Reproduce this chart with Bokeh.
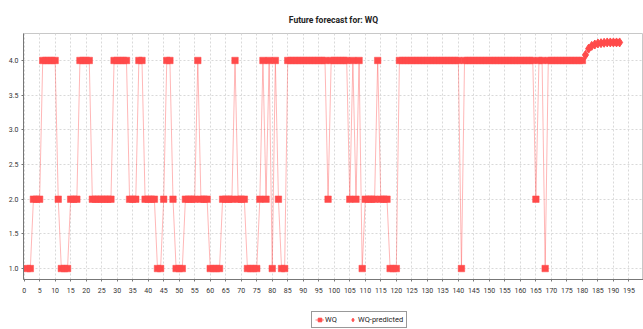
from bokeh.plotting import figure
from bokeh.layouts import column
from bokeh.models import (ColumnDataSource, FixedTicker, PrintfTickFormatter,
                          Legend, LegendItem, Range1d)
from bokeh.embed import file_html
from bokeh.resources import INLINE

# ---- data ----
wq_x = list(range(1, 181))
wq_values = [
    1, 1, 2, 2, 2, 4, 4, 4, 4, 4,
    2, 1, 1, 1, 2, 2, 2, 4, 4, 4,
    4, 2, 2, 2, 2, 2, 2, 2, 4, 4,
    4, 4, 4, 2, 2, 2, 4, 4, 2, 2,
    2, 2, 1, 1, 2, 4, 4, 2, 1, 1,
    1, 2, 2, 2, 2, 4, 2, 2, 2, 1,
    1, 1, 1, 2, 2, 2, 2, 4, 2, 2,
    2, 1, 1, 1, 1, 2, 4, 2, 4, 1,
    4, 2, 1, 1, 4, 4, 4, 4, 4, 4,
    4, 4, 4, 4, 4, 4, 4, 2, 4, 4,
    4, 4, 4, 4, 2, 4, 2, 4, 1, 2,
    2, 2, 2, 4, 2, 2, 2, 1, 1, 1,
    4, 4, 4, 4, 4, 4, 4, 4, 4, 4,
    4, 4, 4, 4, 4, 4, 4, 4, 4, 4,
    1, 4, 4, 4, 4, 4, 4, 4, 4, 4,
    4, 4, 4, 4, 4, 4, 4, 4, 4, 4,
    4, 4, 4, 4, 2, 4, 4, 1, 4, 4,
    4, 4, 4, 4, 4, 4, 4, 4, 4, 4,
]
pred_x = list(range(181, 193))
pred_values = [4.08, 4.17, 4.21, 4.23, 4.245, 4.25, 4.255, 4.26, 4.26, 4.26, 4.26, 4.26]
x_ticks = list(range(0, 200, 5))
y_ticks = [1.0, 1.5, 2.0, 2.5, 3.0, 3.5, 4.0]
title_text = "Future forecast for: WQ"
series_names = ["WQ", "WQ-predicted"]

FONT = "Roboto"
RED = "#ff4a4a"

p = figure(width=643, height=308, output_backend="svg", toolbar_location=None,
           x_range=Range1d(-0.2, 199.7), y_range=Range1d(0.842, 4.389),
           min_border_left=23, min_border_right=0, min_border_top=33,
           min_border_bottom=29)

p.title.text = title_text
p.title.align = "center"
p.title.text_font = FONT
p.title.text_font_size = "8.5px"
p.title.text_font_style = "bold"
p.title.text_color = "#222222"
p.title.standoff = 18

src = ColumnDataSource(dict(x=wq_x, y=wq_values))
psrc = ColumnDataSource(dict(x=pred_x, y=pred_values))

p.line("x", "y", source=src, line_color=RED, line_alpha=0.4, line_width=1)
p.scatter("x", "y", source=src, marker="square", size=6.5,
          fill_color=RED, line_color=RED, line_width=0.5)
p.scatter("x", "y", source=psrc, marker="diamond", size=9,
          fill_color=RED, line_color=RED)

p.background_fill_color = "white"
p.outline_line_color = "#c8c8c8"

p.xgrid.ticker = FixedTicker(ticks=x_ticks)
p.ygrid.ticker = FixedTicker(ticks=y_ticks)
for g in (p.xgrid, p.ygrid):
    g.grid_line_color = "#d9d9d9"
    g.grid_line_dash = "2 2"
    g.grid_line_width = 1

p.xaxis.ticker = FixedTicker(ticks=x_ticks)
p.yaxis.ticker = FixedTicker(ticks=y_ticks)
p.yaxis.formatter = PrintfTickFormatter(format="%.1f")
for ax in (p.xaxis, p.yaxis):
    ax.axis_line_color = "#777777"
    ax.major_tick_line_color = "#777777"
    ax.major_tick_out = 2
    ax.major_tick_in = 0
    ax.minor_tick_line_color = None
    ax.major_label_text_font = FONT
    ax.major_label_text_font_size = "7px"
    ax.major_label_text_color = "#333333"
p.xaxis.major_label_standoff = 6
p.yaxis.major_label_standoff = 3

# ---- legend strip below the chart (proxy renderers sit outside its range) ----
lg = figure(width=643, height=21, output_backend="svg", toolbar_location=None,
            x_range=Range1d(100, 101), y_range=Range1d(100, 101),
            min_border_left=0, min_border_right=0, min_border_top=0,
            min_border_bottom=0)
lg.axis.visible = False
lg.grid.visible = False
lg.outline_line_color = None
proxy = ColumnDataSource(dict(x=wq_x[:1], y=wq_values[:1]))
proxy_p = ColumnDataSource(dict(x=pred_x[:1], y=pred_values[:1]))
l1 = lg.line("x", "y", source=proxy, line_color=RED, line_alpha=0.7, line_width=1)
s1 = lg.scatter("x", "y", source=proxy, marker="square", size=6,
                fill_color=RED, line_color=RED)
d1 = lg.scatter("x", "y", source=proxy_p, marker="diamond", size=9,
                fill_color=RED, line_color=RED)
legend = Legend(items=[LegendItem(label=series_names[0], renderers=[l1, s1]),
                       LegendItem(label=series_names[1], renderers=[d1])],
                orientation="horizontal", location=(288, 1),
                label_text_font=FONT, label_text_font_size="7.5px",
                label_text_color="#222222",
                border_line_color="#333333", border_line_width=1,
                background_fill_color="white",
                glyph_height=9, glyph_width=9, label_height=9,
                label_standoff=1, spacing=3, padding=3, margin=0)
lg.add_layout(legend, "center")

layout = column(p, lg, spacing=0)
open("out.html", "w").write(file_html(layout, INLINE))
